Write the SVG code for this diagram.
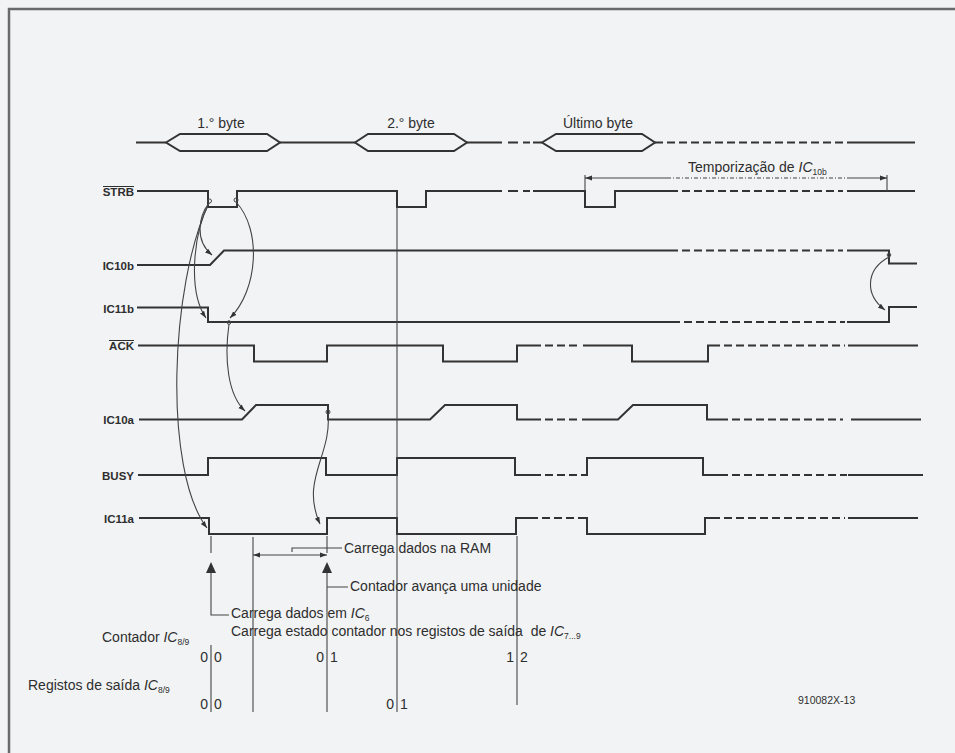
<svg xmlns="http://www.w3.org/2000/svg" width="955" height="753" viewBox="0 0 955 753">
<style>
.sig{fill:none;stroke:#333;stroke-width:2;stroke-linejoin:miter}
.dsh{fill:none;stroke:#333;stroke-width:2;stroke-dasharray:8 4}
.thin{fill:none;stroke:#444;stroke-width:1.1}
.arr{fill:none;stroke:#444;stroke-width:1.1;marker-end:url(#ah)}
.lbl{font-family:"Liberation Sans",Arial,sans-serif;font-weight:bold;font-size:11.5px;fill:#2e2e2e;text-anchor:end}
.t{font-family:"Liberation Sans",Arial,sans-serif;font-size:14px;fill:#2e2e2e}
.tc{font-family:"Liberation Sans",Arial,sans-serif;font-size:14px;fill:#2e2e2e;text-anchor:middle}
.it{font-style:italic}
.sub{font-size:8.5px}
.dot{fill:none;stroke:#444;stroke-width:1}
</style>
<defs>
<marker id="ah" viewBox="0 0 10 10" refX="10" refY="5" markerWidth="7" markerHeight="7" markerUnits="userSpaceOnUse" orient="auto"><path d="M0,1.5 L10,5 L0,8.5 z" fill="#333"/></marker>
<marker id="ah2" viewBox="0 0 10 10" refX="10" refY="5" markerWidth="7" markerHeight="7" markerUnits="userSpaceOnUse" orient="auto-start-reverse"><path d="M0,1.5 L10,5 L0,8.5 z" fill="#333"/></marker>
</defs>
<rect x="0" y="0" width="955" height="753" fill="#f2f3f5"/>
<rect x="9" y="9" width="960" height="760" fill="none" stroke="#6a6a6a" stroke-width="2.5"/>

<g id="data">
<path class="sig" d="M136,142.5 H166 M280,142.5 H355 M467,142.5 H502 M508,142.5 H518 M523,142.5 H530 M533,142.5 H542 M847,142.5 H915"/>
<polygon class="sig" points="166,142.5 180,134 267,134 280,142.5 267,151 180,151"/>
<polygon class="sig" points="355,142.5 368,134 454,134 467,142.5 454,151 368,151"/>
<polygon class="sig" points="542,142.5 556,134 642,134 655,142.5 642,151 556,151"/>
<path class="dsh" d="M655,142.5 H843"/>
<text class="tc" x="221" y="128">1.° byte</text>
<text class="tc" x="411" y="128">2.° byte</text>
<text class="tc" x="598" y="128">Último byte</text>
</g>

<g id="strb">
<text class="lbl" x="134" y="196">STRB</text>
<line x1="103" y1="186.5" x2="134" y2="186.5" stroke="#2e2e2e" stroke-width="1"/>
<path class="sig" d="M137,191 H208 V207 H237 V191 H397 V207 H426 V191 H502 M508,191 H518 M523,191 H530 M533,191 H585 V207 H615 V191 H670 M847,191 H915"/>
<path class="dsh" d="M670,191 H843"/>
</g>

<g id="timing">
<path class="thin" d="M585,175 V191 M887,175 V191"/>
<path class="thin" d="M585,178 H667" marker-start="url(#ah2)"/>
<path class="thin" d="M667,178 H848" stroke-dasharray="4 2 1 2"/>
<path class="thin" d="M848,178 H887" marker-end="url(#ah2)"/>
<text class="t" x="688" y="172" font-size="14.5">Temporização de <tspan class="it">IC</tspan><tspan class="sub" dy="3">10b</tspan></text>
</g>

<g id="ic10b">
<text class="lbl" x="134" y="270">IC10b</text>
<path class="sig" d="M137,265 H210 L224,250.5 H670 M847,250.5 H889 V263.5 H917"/>
<path class="dsh" d="M670,250.5 H843"/>
</g>

<g id="ic11b">
<text class="lbl" x="134" y="312.5">IC11b</text>
<path class="sig" d="M137,307.5 H208 V322 H672 M847,322 H889 V307 H917"/>
<path class="dsh" d="M672,322 H845"/>
</g>

<g id="ack">
<text class="lbl" x="134" y="350">ACK</text>
<line x1="109" y1="340.5" x2="134" y2="340.5" stroke="#2e2e2e" stroke-width="1"/>
<path class="sig" d="M138,345.5 H254 V361.5 H327 V345.5 H443 V361.5 H517 V345.5 H533 M583,345.5 H632 V361.5 H708 V345.5 H712 M848,345.5 H918"/>
<path class="dsh" d="M533,345.5 H581 M712,345.5 H845"/>
</g>

<g id="ic10a">
<text class="lbl" x="134" y="424">IC10a</text>
<path class="sig" d="M139,419.5 H242 L256,405 H328 V419.5 H430 L445,405 H517 V419.5 H533 M582,419.5 H618 L633,405 H707 V419.5 H720 M851,419.5 H921"/>
<path class="dsh" d="M533,419.5 H580 M720,419.5 H843"/>
</g>

<g id="busy">
<text class="lbl" x="134" y="480">BUSY</text>
<path class="sig" d="M138,475 H208 V458 H326 V475 H397 V458 H515 V475 H533 M583,475 H587 V458 H703 V475 H720 M848,475 H923"/>
<path class="dsh" d="M533,475 H583 M720,475 H847"/>
</g>

<g id="ic11a">
<text class="lbl" x="134" y="523">IC11a</text>
<path class="sig" d="M139,518 H209 V534 H327 V518 H397 V534 H516 V518 H530 M580,518 H587 V534 H705 V518 H712 M848,518 H918"/>
<path class="dsh" d="M530,518 H580 M712,518 H845"/>
</g>

<g id="connectors">
<circle class="dot" cx="209.5" cy="201" r="2"/>
<circle class="dot" cx="236" cy="200" r="2"/>
<circle class="dot" cx="229" cy="322.5" r="1.8"/>
<circle class="dot" cx="328" cy="412" r="2"/>
<circle class="dot" cx="889" cy="255" r="1.8"/>
<path class="arr" d="M209,203 C199,216 194,240 212,255"/>
<path class="arr" d="M209,203 C194,232 187,290 206,318"/>
<path class="arr" d="M209,203 C170,285 163,470 207,528"/>
<path class="arr" d="M236,202 C262,230 258,290 230,318"/>
<path class="arr" d="M229,324 C224,360 228,395 245,411"/>
<path class="arr" d="M328,414 C332,455 300,480 320,524"/>
<path class="arr" d="M889,257 C865,270 865,295 885,310"/>
<path class="thin" d="M397,207 V712"/>
<path class="thin" d="M211,536 V553 M211,572 V615 H229 M211,645 V712"/>
<polygon points="211,562 206,573 216,573" fill="#333"/>
<path class="thin" d="M327,536 V553 M327,572 V712 M327,587 H348"/>
<polygon points="327,562 322,573 332,573" fill="#333"/>
<path class="thin" d="M253,537 V712"/>
<path class="thin" d="M517,536 V705"/>
<path class="thin" d="M253,555 H327" marker-start="url(#ah2)" marker-end="url(#ah2)"/>
<path class="thin" d="M292,552 V548 H342"/>
</g>

<g id="notes">
<text class="t" x="344" y="553">Carrega dados na RAM</text>
<text class="t" x="350" y="591">Contador avança uma unidade</text>
<text class="t" x="231" y="618">Carrega dados em <tspan class="it">IC</tspan><tspan class="sub" dy="2.5">6</tspan></text>
<text class="t" x="231" y="636">Carrega estado contador nos registos de saída&#160; de <tspan class="it">IC</tspan><tspan class="sub" dy="2.5">7...9</tspan></text>
<text class="t" x="102" y="642">Contador <tspan class="it">IC</tspan><tspan class="sub" dy="2.5">8/9</tspan></text>
<text class="t" x="28" y="690">Registos de saída <tspan class="it">IC</tspan><tspan class="sub" dy="2.5">8/9</tspan></text>
<text class="t" x="208" y="662" text-anchor="end">0</text>
<text class="t" x="214" y="662">0</text>
<text class="t" x="324" y="662" text-anchor="end">0</text>
<text class="t" x="330" y="662">1</text>
<text class="t" x="514" y="662" text-anchor="end">1</text>
<text class="t" x="520" y="662">2</text>
<text class="t" x="208" y="709" text-anchor="end">0</text>
<text class="t" x="214" y="709">0</text>
<text class="t" x="394" y="709" text-anchor="end">0</text>
<text class="t" x="400" y="709">1</text>
<text x="798" y="704" font-family="Liberation Sans, Arial, sans-serif" font-size="10.5" fill="#2e2e2e">910082X-13</text>
</g>
</svg>
